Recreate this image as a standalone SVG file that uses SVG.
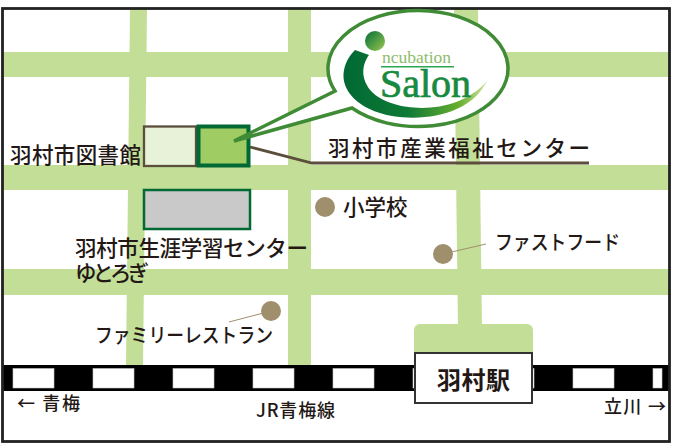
<svg xmlns="http://www.w3.org/2000/svg" width="674" height="446" viewBox="0 0 674 446">
<defs>
<linearGradient id="dot" x1="0" y1="0" x2="1" y2="1"><stop offset="0" stop-color="#006f38"/><stop offset="1" stop-color="#9cc74e"/></linearGradient>
<linearGradient id="swoosh" x1="0" y1="0" x2="1" y2="0"><stop offset="0" stop-color="#006934"/><stop offset="0.45" stop-color="#0f7a36"/><stop offset="0.8" stop-color="#66ad2e"/><stop offset="1" stop-color="#cfe3a0"/></linearGradient>
</defs>
<style>
.t{font-family:"Noto Sans CJK JP","Noto Sans",sans-serif;fill:#231815;font-weight:500}
.l{font-size:21.500px}
.s{font-size:18px}
.k{font-size:20px}
.road{fill:#c3de97}
.lead{fill:none;stroke:#5b4f3c}
.poi{fill:#a08f6d}
.win{fill:#fff;stroke:#c8c8c8;stroke-width:.6}
</style>
<rect width="674" height="446" fill="#fff"/>
<g id="roads">
<rect class="road" x="3" y="52" width="667" height="25"/>
<rect class="road" x="3" y="165" width="667" height="25"/>
<rect class="road" x="3" y="269" width="667" height="26"/>
<polygon class="road" points="130,9 147,9 143,365 126,365"/>
<rect class="road" x="288" y="9" width="23" height="356"/>
<polygon class="road" points="454,9 478,9 482,330 458,330"/>
<path class="road" d="M414 356V330a6 6 0 0 1 6-6H527a6 6 0 0 1 6 6V356Z"/>
</g>
<g id="railway">
<rect x="3" y="365" width="667" height="26" fill="#000"/>
<rect class="win" x="13" y="368.500" width="41" height="19.500"/>
<rect class="win" x="93" y="368.500" width="41" height="19.500"/>
<rect class="win" x="173" y="368.500" width="41" height="19.500"/>
<rect class="win" x="253" y="368.500" width="41" height="19.500"/>
<rect class="win" x="333" y="368.500" width="41" height="19.500"/>
<rect class="win" x="413" y="368.500" width="41" height="19.500"/>
<rect class="win" x="493" y="368.500" width="41" height="19.500"/>
<rect class="win" x="573" y="368.500" width="41" height="19.500"/>
<rect class="win" x="653" y="368.500" width="9" height="19.500"/>
</g>
<rect id="frame" x="2.500" y="8.500" width="667" height="433" fill="none" stroke="#222" stroke-width="2.800"/>
<g id="connectors">
<path class="lead" stroke-width="2.800" d="M250 147L312 163H589"/>
<path class="lead" stroke-width="1" style="stroke:#a08f6d" d="M443 254L486 244"/>
<path class="lead" stroke-width="1" style="stroke:#a08f6d" d="M271 311L229 322"/>
</g>
<g id="library"><rect x="144" y="126.500" width="52" height="39.500" fill="#e8f2d9" stroke="#5b4f3c" stroke-width="2.300"/></g>
<g id="salon-building"><rect x="198.500" y="126.500" width="50" height="39" fill="#a0cd63" stroke="#006934" stroke-width="4"/></g>
<g id="lifelong-center"><rect x="144" y="190" width="106" height="39" fill="#c9c9c9" stroke="#006934" stroke-width="2.500"/></g>
<g id="callout">
<path d="M335 91A90 58 0 1 1 352 108L234 141Z" fill="#fff" stroke="#3f8b36" stroke-width="3.500" stroke-linejoin="miter"/>
<circle cx="375" cy="41" r="10" fill="url(#dot)"/>
<path d="M355 50L369 55C361 66 361 80 372 92C392 112 455 118 487 81C472 112 430 122 392 116C358 110 340 90 344 70C346 61 350 55 355 50Z" fill="url(#swoosh)"/>
<text x="382" y="63" font-family="Liberation Serif,serif" font-size="17.500" fill="#8dbd6b">ncubation</text>
<rect x="381" y="66" width="73" height="1.500" fill="#2aa650"/>
<text x="380" y="97" font-family="Liberation Serif,serif" font-size="40" fill="#178a40" stroke="#178a40" stroke-width=".7">Salon</text>
</g>
<g id="poi-school"><circle class="poi" cx="325" cy="207" r="10"/><text class="t" x="343" y="215" style="font-size:21.500px">小学校</text></g>
<g id="poi-fastfood"><circle class="poi" cx="443" cy="254" r="10"/><text class="t k" x="495" y="250" textLength="125" lengthAdjust="spacingAndGlyphs">ファストフード</text></g>
<g id="poi-family"><circle class="poi" cx="271" cy="311" r="10"/><text class="t k" x="95" y="343" textLength="178" lengthAdjust="spacingAndGlyphs">ファミリーレストラン</text></g>
<g id="labels">
<text class="t l" x="10" y="163" textLength="131">羽村市図書館</text>
<text class="t l" x="75" y="256" textLength="233">羽村市生涯学習センター</text>
<text class="t l" x="75" y="281" textLength="74">ゆとろぎ</text>
<text class="t l" x="328" y="156" textLength="262">羽村市産業福祉センター</text>
<text class="t s" x="17" y="410" textLength="63">← 青梅</text>
<text class="t s" x="256" y="417" textLength="79">JR青梅線</text>
<text class="t s" x="604" y="413" textLength="62">立川 →</text>
</g>
<g id="station"><rect x="415" y="353" width="117" height="50" fill="#fff" stroke="#333" stroke-width="2"/><text class="t" x="437" y="389" font-size="24" style="font-weight:700" textLength="73">羽村駅</text></g>
</svg>
